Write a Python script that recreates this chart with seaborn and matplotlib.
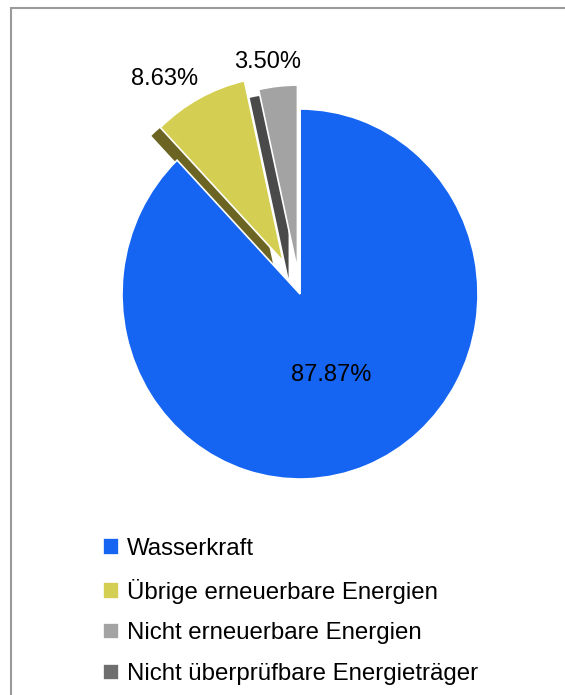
import numpy as np
import matplotlib.pyplot as plt
import seaborn as sns
from matplotlib.patches import Rectangle

# dane
kategorie = ['Wasserkraft', 'Übrige erneuerbare Energien',
             'Nicht erneuerbare Energien', 'Nicht überprüfbare Energieträger']
udzialy = [87.87, 8.63, 3.50, 0.0]

kolory = ['#1565f2', '#d4cf52', '#a3a3a3', '#6e6e6e']
kolory_cien = ['white', '#6b6422', '#4a4a4a', '#3a3a3a']
wysun = [0.0, 0.20, 0.13, 0.0]
odl_etykiet = [0.47, 1.39, 1.27, 1.2]
obrot_etykiet = [0, 5, 2, 0]   # stopnie

sns.set_theme(style='white')
plt.rcParams['font.family'] = ['Liberation Sans', 'DejaVu Sans']
plt.rcParams['text.color'] = 'black'

fig = plt.figure(figsize=(5.65, 6.95), dpi=100)
# skala: 178 px poziomo, 184 px pionowo na jednostke, srodek w (300, 294) px
cx, cy, rx, ry = 300, 294, 178, 185
ax = fig.add_axes([0, 0, 1, 1])

# cien (efekt 3D)
ax.pie(udzialy, colors=kolory_cien, explode=wysun, startangle=90,
       counterclock=False, center=(-0.05, -0.045),
       wedgeprops=dict(linewidth=0), frame=True)

wedges, _, autotexts = ax.pie(
    udzialy, colors=kolory, explode=wysun, startangle=90, counterclock=False,
    autopct=lambda p: f'{p:.2f}%' if p > 0.5 else '', pctdistance=0.5,
    wedgeprops=dict(edgecolor='white', linewidth=1.2), frame=True,
    textprops=dict(fontsize=17, color='black'))

ax.set_xlim(-cx / rx, (565 - cx) / rx)
ax.set_ylim(-(695 - cy) / ry, cy / ry)
ax.set_aspect('auto')
ax.axis('off')

# etykiety procentowe - wzdluz srodka klina
for w, t, d, o in zip(wedges, autotexts, odl_etykiet, obrot_etykiet):
    kat = np.deg2rad((w.theta1 + w.theta2) / 2 + o)
    t.set_position((d * np.cos(kat), d * np.sin(kat)))
    t.set_ha('center')
    t.set_va('center')

# ramka
fig.add_artist(Rectangle((11 / 565, -0.1), 1.2, (695 - 8) / 695 + 0.1,
                         transform=fig.transFigure, fill=False,
                         edgecolor='#9a9a9a', linewidth=1.5))

leg = fig.legend(wedges, kategorie, loc='upper left',
                 bbox_to_anchor=(91 / 565, (695 - 526) / 695),
                 frameon=False, fontsize=17.3, handlelength=0.68,
                 handleheight=0.68, handletextpad=0.3, labelspacing=0.78,
                 borderpad=0)
for t in leg.get_texts():
    t.set_color('black')

plt.savefig('out.png', dpi=100)
plt.close()
